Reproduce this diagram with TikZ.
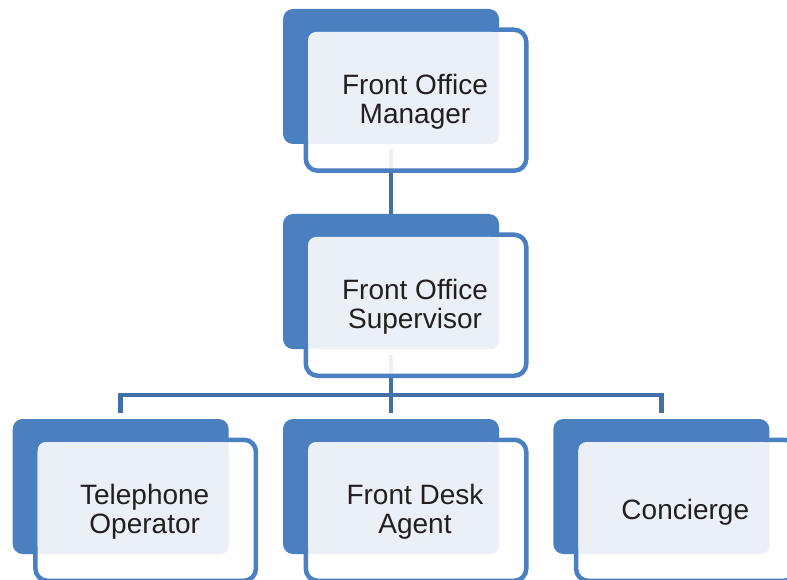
\documentclass[tikz,border=0pt]{standalone}
\usepackage{fontspec}
\setmainfont{Liberation Sans}
\usetikzlibrary{backgrounds,positioning}
\definecolor{backblue}{HTML}{4A80C0}
\definecolor{frameblue}{HTML}{4A80C2}
\definecolor{connblue}{HTML}{416FA6}
\definecolor{lightfill}{HTML}{EBF0F7}
\definecolor{txt}{HTML}{231F20}
\tikzset{
  backbox/.style={draw=none,fill=backblue,rounded corners=10pt,minimum width=216pt,minimum height=135pt,inner sep=0pt},
  framebox/.style={draw=frameblue,line width=4.5pt,fill=white,fill opacity=0.9,rounded corners=12pt,minimum width=220.5pt,minimum height=141pt,inner sep=0pt},
  lightbox/.style={draw=none,fill=lightfill,rounded corners=8pt,minimum width=191pt,minimum height=112pt,inner sep=0pt},
  label/.style={text=txt,font=\fontsize{28pt}{28.5pt}\selectfont,align=center,inner sep=0pt},
  conn/.style={draw=connblue,line width=4.5pt,line join=miter}
}
\newcommand{\orgbox}[4]{%
  \node[backbox] (#1) at (#2+108,#3+67.5) {};
  \node[framebox] (#1f) at (#2+133,#3+91.25) {};
  \node[lightbox] (#1l) at (#2+120.5,#3+79) {};
  \node[label] (#1t) at (#2+132,#3+93) {#4};
}
\begin{document}
\begin{tikzpicture}[x=1pt,y=-1pt]
\useasboundingbox (0,0) rectangle (787,580);
\clip (0,0) rectangle (787,580);
\orgbox{b1}{283}{9}{Front Office\\Manager}
\orgbox{b2}{283}{214}{Front Office\\Supervisor}
\orgbox{b3}{12.7}{419}{Telephone\\Operator}
\orgbox{b4}{283}{419}{Front Desk\\Agent}
\orgbox{b5}{553.3}{419}{Concierge}
\begin{pgfonlayer}{background}
\draw[conn] ([yshift=-5pt]b1.south) -- (b2.north);
\draw[conn] ([yshift=-6pt]b2.south) -- ([yshift=6pt]b4.north);
\draw[conn] ([yshift=6pt]b3.north) |- ([yshift=24pt]b4.north) -| ([yshift=6pt]b5.north);
\end{pgfonlayer}
\end{tikzpicture}
\end{document}
